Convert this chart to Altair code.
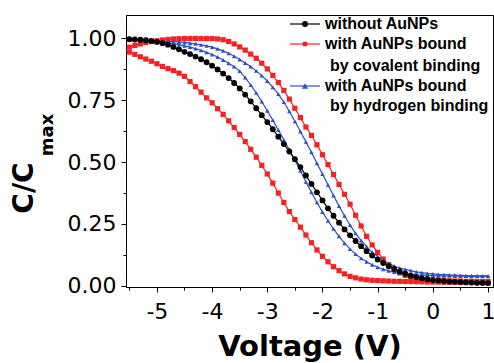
import altair as alt
import pandas as pd

# ---------------- data ----------------
voltage = [-5.5, -5.4, -5.3, -5.2, -5.1, -5.0, -4.9, -4.8, -4.7, -4.6,
           -4.5, -4.4, -4.3, -4.2, -4.1, -4.0, -3.9, -3.8, -3.7, -3.6,
           -3.5, -3.4, -3.3, -3.2, -3.1, -3.0, -2.9, -2.8, -2.7, -2.6,
           -2.5, -2.4, -2.3, -2.2, -2.1, -2.0, -1.9, -1.8, -1.7, -1.6,
           -1.5, -1.4, -1.3, -1.2, -1.1, -1.0, -0.9, -0.8, -0.7, -0.6,
           -0.5, -0.4, -0.3, -0.2, -0.1, 0.0, 0.1, 0.2, 0.3, 0.4,
           0.5, 0.6, 0.7, 0.8, 0.9, 1.0]

without_aunps = [0.997, 0.996, 0.995, 0.993, 0.990, 0.986, 0.981, 0.975, 0.966, 0.956,
                 0.946, 0.937, 0.927, 0.916, 0.904, 0.890, 0.875, 0.858, 0.840, 0.820,
                 0.798, 0.773, 0.746, 0.718, 0.690, 0.662, 0.633, 0.603, 0.573, 0.543,
                 0.512, 0.480, 0.446, 0.412, 0.378, 0.345, 0.313, 0.283, 0.255, 0.228,
                 0.204, 0.181, 0.160, 0.140, 0.122, 0.106, 0.092, 0.079, 0.068, 0.058,
                 0.049, 0.041, 0.035, 0.030, 0.026, 0.023, 0.021, 0.019, 0.017, 0.016,
                 0.015, 0.014, 0.013, 0.012, 0.012, 0.011]

covalent_a = [0.945, 0.936, 0.926, 0.917, 0.908, 0.898, 0.887, 0.878, 0.870, 0.860,
              0.847, 0.826, 0.805, 0.783, 0.760, 0.740, 0.716, 0.693, 0.667, 0.640,
              0.612, 0.583, 0.552, 0.520, 0.487, 0.452, 0.415, 0.375, 0.337, 0.300,
              0.268, 0.237, 0.205, 0.174, 0.145, 0.119, 0.097, 0.077, 0.061, 0.048,
              0.038, 0.032, 0.027, 0.024, 0.022, 0.021, 0.020, 0.019, 0.018, 0.018,
              0.017, 0.017, 0.016, 0.016, 0.015, 0.015, 0.015, 0.014, 0.014, 0.014,
              0.013, 0.013, 0.013, 0.012, 0.012, 0.012]

covalent_b = [0.965, 0.972, 0.978, 0.984, 0.988, 0.991, 0.994, 0.996, 0.998, 0.999,
              1.000, 1.000, 1.000, 1.000, 1.000, 1.000, 0.998, 0.995, 0.988, 0.978,
              0.966, 0.953, 0.937, 0.920, 0.900, 0.877, 0.851, 0.822, 0.790, 0.755,
              0.718, 0.680, 0.642, 0.608, 0.570, 0.530, 0.490, 0.450, 0.410, 0.370,
              0.330, 0.285, 0.242, 0.200, 0.165, 0.135, 0.108, 0.085, 0.066, 0.052,
              0.042, 0.035, 0.030, 0.027, 0.025, 0.023, 0.022, 0.021, 0.020, 0.019,
              0.019, 0.018, 0.018, 0.017, 0.017, 0.017]

hydrogen_a = [0.997, 0.996, 0.995, 0.993, 0.991, 0.989, 0.986, 0.983, 0.979, 0.975,
              0.970, 0.965, 0.959, 0.952, 0.944, 0.935, 0.925, 0.913, 0.900, 0.886,
              0.868, 0.842, 0.812, 0.780, 0.745, 0.708, 0.670, 0.630, 0.590, 0.550,
              0.508, 0.465, 0.420, 0.378, 0.337, 0.298, 0.263, 0.230, 0.200, 0.172,
              0.148, 0.128, 0.111, 0.097, 0.085, 0.075, 0.067, 0.060, 0.055, 0.051,
              0.048, 0.046, 0.044, 0.043, 0.042, 0.041, 0.040, 0.040, 0.040, 0.039,
              0.039, 0.039, 0.038, 0.038, 0.038, 0.038]

hydrogen_b = [0.995, 0.994, 0.993, 0.992, 0.991, 0.990, 0.989, 0.988, 0.987, 0.986,
              0.984, 0.981, 0.978, 0.974, 0.970, 0.965, 0.958, 0.950, 0.940, 0.928,
              0.915, 0.901, 0.886, 0.869, 0.850, 0.828, 0.803, 0.775, 0.743, 0.705,
              0.665, 0.624, 0.582, 0.540, 0.495, 0.452, 0.408, 0.365, 0.322, 0.283,
              0.245, 0.212, 0.183, 0.158, 0.136, 0.118, 0.103, 0.090, 0.080, 0.072,
              0.066, 0.061, 0.056, 0.053, 0.050, 0.048, 0.046, 0.045, 0.044, 0.043,
              0.042, 0.041, 0.041, 0.040, 0.040, 0.040]

series_names = ["without AuNPs", "covalent", "hydrogen"]
series_colors = ["#000000", "#f42222", "#2f4fbf"]
series_shapes = ["circle", "square", "triangle-up"]
series_sizes = [34, 20, 38]

x_ticks = [-5.5, -5, -4.5, -4, -3.5, -3, -2.5, -2, -1.5, -1, -0.5, 0, 0.5, 1]
y_ticks = [0, 0.125, 0.25, 0.375, 0.5, 0.625, 0.75, 0.875, 1.0]

# ---------------- build table ----------------
curves = [
    ("covalent", "a", covalent_a),
    ("covalent", "b", covalent_b),
    ("hydrogen", "a", hydrogen_a),
    ("hydrogen", "b", hydrogen_b),
    ("without AuNPs", "a", without_aunps),
]
rows = []
for name, sweep, vals in curves:
    for v, c in zip(voltage, vals):
        rows.append({"V": v, "C": c, "series": name, "curve": name + sweep})
df = pd.DataFrame(rows)

W, H = 367, 272
FONT = "DejaVu Sans"

x_enc = alt.X(
    "V:Q",
    scale=alt.Scale(domain=[-5.56, 1.09], nice=False, zero=False),
    axis=alt.Axis(
        values=x_ticks,
        labelExpr="datum.value % 1 === 0 ? '' + datum.value : ''",
        tickSize={"condition": {"test": "datum.value % 1 === 0", "value": 5}, "value": 3},
        title="Voltage (V)",
        titleFont=FONT, titleFontSize=29, titleFontWeight="bold",
        titlePadding=10, labelPadding=9,
    ),
)
y_enc = alt.Y(
    "C:Q",
    scale=alt.Scale(domain=[-0.005, 1.095], nice=False, zero=False),
    axis=alt.Axis(
        values=y_ticks,
        format=".2f",
        labelExpr="(datum.value * 4) % 1 === 0 ? datum.label : ''",
        tickSize={"condition": {"test": "(datum.value * 4) % 1 === 0", "value": 5}, "value": 3},
        title=None, labelPadding=5,
    ),
)
color_enc = alt.Color("series:N", scale=alt.Scale(domain=series_names, range=series_colors), legend=None)
shape_enc = alt.Shape("series:N", scale=alt.Scale(domain=series_names, range=series_shapes), legend=None)
size_enc = alt.Size("series:N", scale=alt.Scale(domain=series_names, range=series_sizes), legend=None)

lines = alt.Chart(df).mark_line(strokeWidth=1.2, clip=True).encode(
    x=x_enc, y=y_enc, color=color_enc, detail="curve:N"
)
points = alt.Chart(df).mark_point(filled=True, opacity=1, clip=True).encode(
    x=x_enc, y=y_enc, color=color_enc, shape=shape_enc, size=size_enc
)

one = pd.DataFrame({"k": [0]})


def txt(s, x, y, size=16, weight="bold", angle=0, align="left", baseline="middle"):
    return alt.Chart(one).mark_text(
        text=s, font="Liberation Sans" if angle == 0 else FONT, fontSize=size, fontWeight=weight,
        angle=angle, align=align, baseline=baseline, color="black"
    ).encode(x=alt.value(x), y=alt.value(y))


def legend_symbol(i, y):
    r = alt.Chart(one).mark_rule(color=series_colors[i], strokeWidth=1.2).encode(
        x=alt.value(164), x2=alt.value(194), y=alt.value(y)
    )
    p = alt.Chart(one).mark_point(
        shape=series_shapes[i], filled=True, opacity=1, size=series_sizes[i],
        color=series_colors[i]
    ).encode(x=alt.value(179), y=alt.value(y))
    return r + p


legend_layers = [
    legend_symbol(0, 9), txt("without AuNPs", 199, 9),
    legend_symbol(1, 29), txt("with AuNPs bound", 199, 29), txt("by covalent binding", 204, 51),
    legend_symbol(2, 71), txt("with AuNPs bound", 199, 71), txt("by hydrogen binding", 204, 91),
]

ytitle = [
    txt("C/C", -93, 173, size=28, angle=270, align="center", baseline="alphabetic"),
    txt("max", -73, 120, size=18, angle=270, align="center", baseline="alphabetic"),
]

chart = alt.layer(lines, points, *legend_layers, *ytitle).properties(
    width=W, height=H,
    autosize=alt.AutoSizeParams(type="none"),
    padding={"left": 126, "top": 15, "right": 1, "bottom": 76},
    background="white",
).configure_view(
    stroke="black", strokeWidth=1
).configure_axis(
    grid=False, domainColor="black", domainWidth=1, tickColor="black", tickWidth=1,
    labelColor="black", labelFont=FONT, labelFontSize=22, titleColor="black",
    labelFlush=False, labelOverlap=False,
)

chart.save("out.html", embed_options={"renderer": "svg", "actions": False})
